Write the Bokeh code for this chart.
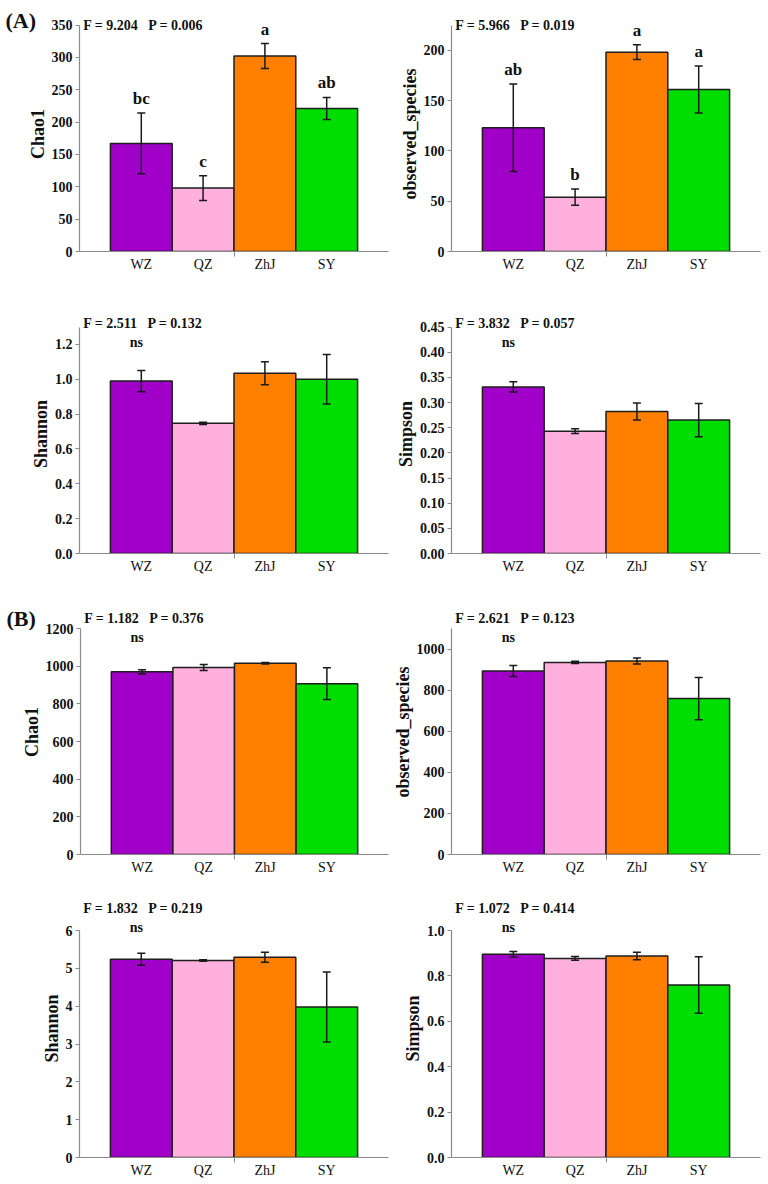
from bokeh.plotting import figure
from bokeh.layouts import column, row
from bokeh.models import (Range1d, FixedTicker, SingleIntervalTicker, PrintfTickFormatter,
                          Whisker, TeeHead, ColumnDataSource, Label)
from bokeh.core.properties import value
from bokeh.embed import file_html
from bokeh.resources import INLINE

# ---------------- data ----------------
categories = ["WZ", "QZ", "ZhJ", "SY"]
colors = ["#A000C8", "#FFB0DC", "#FF8000", "#00DD00"]

A_chao1_mean = [167, 98, 302, 221]
A_chao1_se = [47, 19, 19.3, 17]
A_obs_mean = [123, 54, 198, 161]
A_obs_se = [43.5, 8, 7.3, 23.3]
A_shannon_mean = [0.990, 0.747, 1.034, 1.000]
A_shannon_se = [0.061, 0.006, 0.066, 0.142]
A_simpson_mean = [0.331, 0.243, 0.282, 0.265]
A_simpson_se = [0.010, 0.0046, 0.017, 0.033]

B_chao1_mean = [970, 993, 1015, 907]
B_chao1_se = [11, 16, 4, 84]
B_obs_mean = [893, 935, 942, 759]
B_obs_se = [27, 5, 15, 103]
B_shannon_mean = [5.24, 5.21, 5.29, 3.98]
B_shannon_se = [0.158, 0.02, 0.132, 0.924]
B_simpson_mean = [0.895, 0.877, 0.888, 0.760]
B_simpson_se = [0.012, 0.008, 0.0165, 0.124]

ylabels = ["Chao1", "observed_species", "Shannon", "Simpson",
           "Chao1", "observed_species", "Shannon", "Simpson"]
f_values = ["9.204", "5.966", "2.511", "3.832", "1.182", "2.621", "1.832", "1.072"]
p_values = ["0.006", "0.019", "0.132", "0.057", "0.376", "0.123", "0.219", "0.414"]
sig_letters = [["bc", "c", "a", "ab"], ["ab", "b", "a", "a"], None, None, None, None, None, None]
ns_marks = [False, False, True, True, True, True, True, True]
panel_tags = {0: "(A)", 4: "(B)"}
axis_max = [350, 225, 1.3, 0.45, 1200, 1100, 6, 1.0]
tick_step = [50, 50, 0.2, 0.05, 200, 200, 1, 0.2]
tick_fmt = ["%d", "%d", "%.1f", "%.2f", "%d", "%d", "%d", "%.1f"]

means = [A_chao1_mean, A_obs_mean, A_shannon_mean, A_simpson_mean,
         B_chao1_mean, B_obs_mean, B_shannon_mean, B_simpson_mean]
ses = [A_chao1_se, A_obs_se, A_shannon_se, A_simpson_se,
       B_chao1_se, B_obs_se, B_shannon_se, B_simpson_se]

# ---------------- layout (page pixels) ----------------
row_start = [0, 300, 597, 893]
row_end = [300, 597, 893, 1184]
frame_top = [16, 314, 609, 899]
axis_top_px = [24.5, 326.5, 628, 930]
zero_px = [251, 553, 854, 1157]
FRAME_W = 309
# flow: column start, desired frame-left (page px), left border reserved, right border
col_cfg = [dict(start=0, frame_left=79, lb=90, rb=4),
           dict(start=392, frame_left=451, lb=64, rb=8)]
TAG_X = 5  # page x of the panel tags

FONT = "Liberation Serif"
AXIS_GRAY = "#8a8a8a"


def make_panel(i):
    r, c = divmod(i, 2)
    cfg = col_cfg[c]
    H = row_end[r] - row_start[r]
    top_b = frame_top[r] - row_start[r]
    bot_b = row_end[r] - zero_px[r]
    amax = axis_max[i]
    y_end = amax * (zero_px[r] - frame_top[r]) / (zero_px[r] - axis_top_px[r])
    margin_left = cfg["frame_left"] - cfg["lb"] - cfg["start"]

    p = figure(width=cfg["lb"] + FRAME_W + cfg["rb"], height=H,
               x_range=Range1d(0, 5), y_range=Range1d(0, y_end),
               output_backend="svg", toolbar_location=None,
               min_border_left=cfg["lb"], min_border_right=cfg["rb"],
               min_border_top=top_b, min_border_bottom=bot_b,
               margin=(0, 0, 0, margin_left),
               outline_line_color=None, background_fill_color=None, border_fill_color=None)
    p.xgrid.visible = False
    p.ygrid.visible = False

    xs = [1, 2, 3, 4]
    m = means[i]
    s = ses[i]
    src = ColumnDataSource(dict(x=xs, top=m, color=colors,
                                upper=[a + b for a, b in zip(m, s)],
                                lower=[a - b for a, b in zip(m, s)]))
    p.vbar(x="x", top="top", width=1.0, source=src, fill_color="color",
           line_color="#1e1e1e", line_width=1.5)
    w = Whisker(source=src, base="x", upper="upper", lower="lower", dimension="height",
                line_color="#1a1a1a", line_width=1.5, level="annotation",
                upper_head=TeeHead(size=8, line_color="#1a1a1a", line_width=1.5),
                lower_head=TeeHead(size=8, line_color="#1a1a1a", line_width=1.5))
    p.add_layout(w)

    # x axis
    xa = p.xaxis[0]
    xa.ticker = FixedTicker(ticks=xs, minor_ticks=[2.5])
    xa.major_label_overrides = {k: v for k, v in zip(xs, categories)}
    xa.major_tick_line_color = None
    xa.major_tick_out = 0
    xa.major_tick_in = 0
    xa.minor_tick_out = 5
    xa.minor_tick_in = 0
    xa.minor_tick_line_color = AXIS_GRAY
    xa.axis_line_color = AXIS_GRAY
    xa.axis_line_width = 1.2
    xa.major_label_text_font = FONT
    xa.major_label_text_font_size = "14px"
    xa.major_label_text_color = "#111111"
    xa.major_label_standoff = 0

    # y axis
    ya = p.yaxis[0]
    ya.bounds = (0, amax + 1e-9 * max(1, amax))
    ya.ticker = SingleIntervalTicker(interval=tick_step[i], num_minor_ticks=0)
    ya.formatter = PrintfTickFormatter(format=tick_fmt[i])
    ya.axis_line_color = AXIS_GRAY
    ya.axis_line_width = 1.2
    ya.major_tick_line_color = AXIS_GRAY
    ya.major_tick_out = 4
    ya.major_tick_in = 0
    ya.minor_tick_line_color = None
    ya.major_label_text_font = FONT
    ya.major_label_text_font_style = "bold"
    ya.major_label_text_font_size = "14px"
    ya.major_label_text_color = "#111111"
    ya.major_label_standoff = 3
    ya.axis_label = ylabels[i]
    ya.axis_label_text_font = FONT
    ya.axis_label_text_font_style = "bold"
    ya.axis_label_text_font_size = "18px"
    ya.axis_label_text_color = "#111111"
    ya.axis_label_standoff = 1

    # F / P statistics text
    p.text(x=[0.06], y=[y_end], text=["F = %s\u00a0\u00a0\u00a0P = %s" % (f_values[i], p_values[i])],
           text_font=value(FONT), text_font_style="bold", text_font_size="14px",
           text_color="#111111", text_align="left", text_baseline="middle", y_offset=9)

    if sig_letters[i] is not None:
        p.text(x=xs, y=src.data["upper"], text=sig_letters[i],
               text_font=value(FONT), text_font_style="bold", text_font_size="17px",
               text_color="#111111", text_align="center", text_baseline="bottom", y_offset=-5)
    if ns_marks[i]:
        p.text(x=[xs[0]], y=[y_end], text=["ns"],
               text_font=value(FONT), text_font_style="bold", text_font_size="14px",
               text_color="#111111", text_align="center", text_baseline="middle",
               x_offset=-5, y_offset=28)

    if i in panel_tags:
        lab = Label(x=0, x_units="data", x_offset=TAG_X - cfg["frame_left"],
                    y=y_end, y_units="data", y_offset=(-4 if i == 0 else -9),
                    text=panel_tags[i], text_font=FONT, text_font_style="bold",
                    text_font_size="22px", text_color="#111111", text_baseline="middle",
                    text_align="left")
        p.add_layout(lab, "left")
    return p


panels = [make_panel(i) for i in range(8)]
layout = column(row(panels[0], panels[1]), row(panels[2], panels[3]),
                row(panels[4], panels[5]), row(panels[6], panels[7]))

open("out.html", "w").write(file_html(layout, INLINE))
